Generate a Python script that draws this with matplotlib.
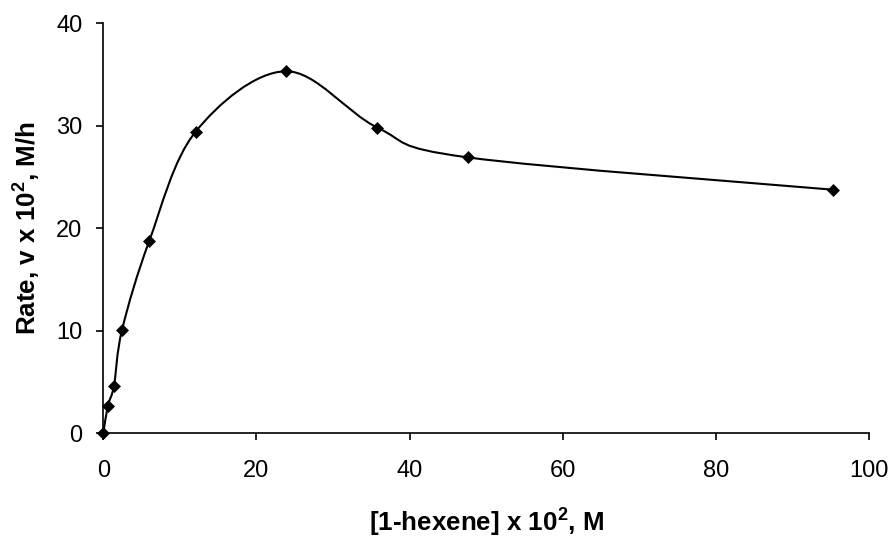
import matplotlib
matplotlib.use("Agg")
import matplotlib.pyplot as plt
import numpy as np
from matplotlib.path import Path
from matplotlib.patches import PathPatch

# data
hexene = [0.0, 0.6, 1.4, 2.45, 6.0, 12.05, 23.8, 35.8, 47.6, 95.3]
rate = [0.0, 2.7, 4.65, 10.1, 18.75, 29.4, 35.3, 29.8, 26.9, 23.75]

x_ticks = [0, 20, 40, 60, 80, 100]
y_ticks = [0, 10, 20, 30, 40]

plt.rcParams['font.family'] = ['Liberation Sans', 'DejaVu Sans']

fig = plt.figure(figsize=(8.96, 5.38), dpi=100)
ax = fig.add_axes([0.1153, 0.1946, 0.8546, 0.7626])

# smoothed line like the spreadsheet "smooth line" option (bezier segments through the points)
pts = np.column_stack([hexene, rate])
n = len(pts)
verts = [pts[0]]
codes = [Path.MOVETO]
for i in range(n - 1):
    p0 = pts[i - 1] if i > 0 else pts[i]
    p1 = pts[i]
    p2 = pts[i + 1]
    p3 = pts[i + 2] if i + 2 < n else pts[i + 1]
    c1 = p1 + (p2 - p0) / 6.0
    c2 = p2 - (p3 - p1) / 6.0
    verts += [c1, c2, p2]
    codes += [Path.CURVE4] * 3
curve = PathPatch(Path(verts, codes), facecolor='none', edgecolor='black', lw=1.5, zorder=2)
ax.add_patch(curve)

ax.plot(hexene, rate, linestyle='none', marker='D', markersize=6.3,
        color='black', markeredgewidth=0.5, zorder=3, clip_on=False)

ax.set_xlim(0, 100)
ax.set_ylim(0, 40)
ax.set_xticks(x_ticks)
ax.set_yticks(y_ticks)
ax.spines['top'].set_visible(False)
ax.spines['right'].set_visible(False)
ax.spines['left'].set_linewidth(1.2)
ax.spines['bottom'].set_linewidth(1.2)
ax.tick_params(axis='both', direction='out', length=5, width=1.2, labelsize=17, colors='black')
ax.tick_params(axis='x', pad=14)
ax.tick_params(axis='y', pad=10)

ax.set_xlabel('[1-hexene] x 10$^\\mathregular{2}$, M', fontsize=18.7, fontweight='bold', labelpad=17)
ax.set_ylabel('Rate, v x 10$^\\mathregular{2}$, M/h', fontsize=18.7, fontweight='bold', labelpad=10)

fig.savefig('out.png', dpi=100)
